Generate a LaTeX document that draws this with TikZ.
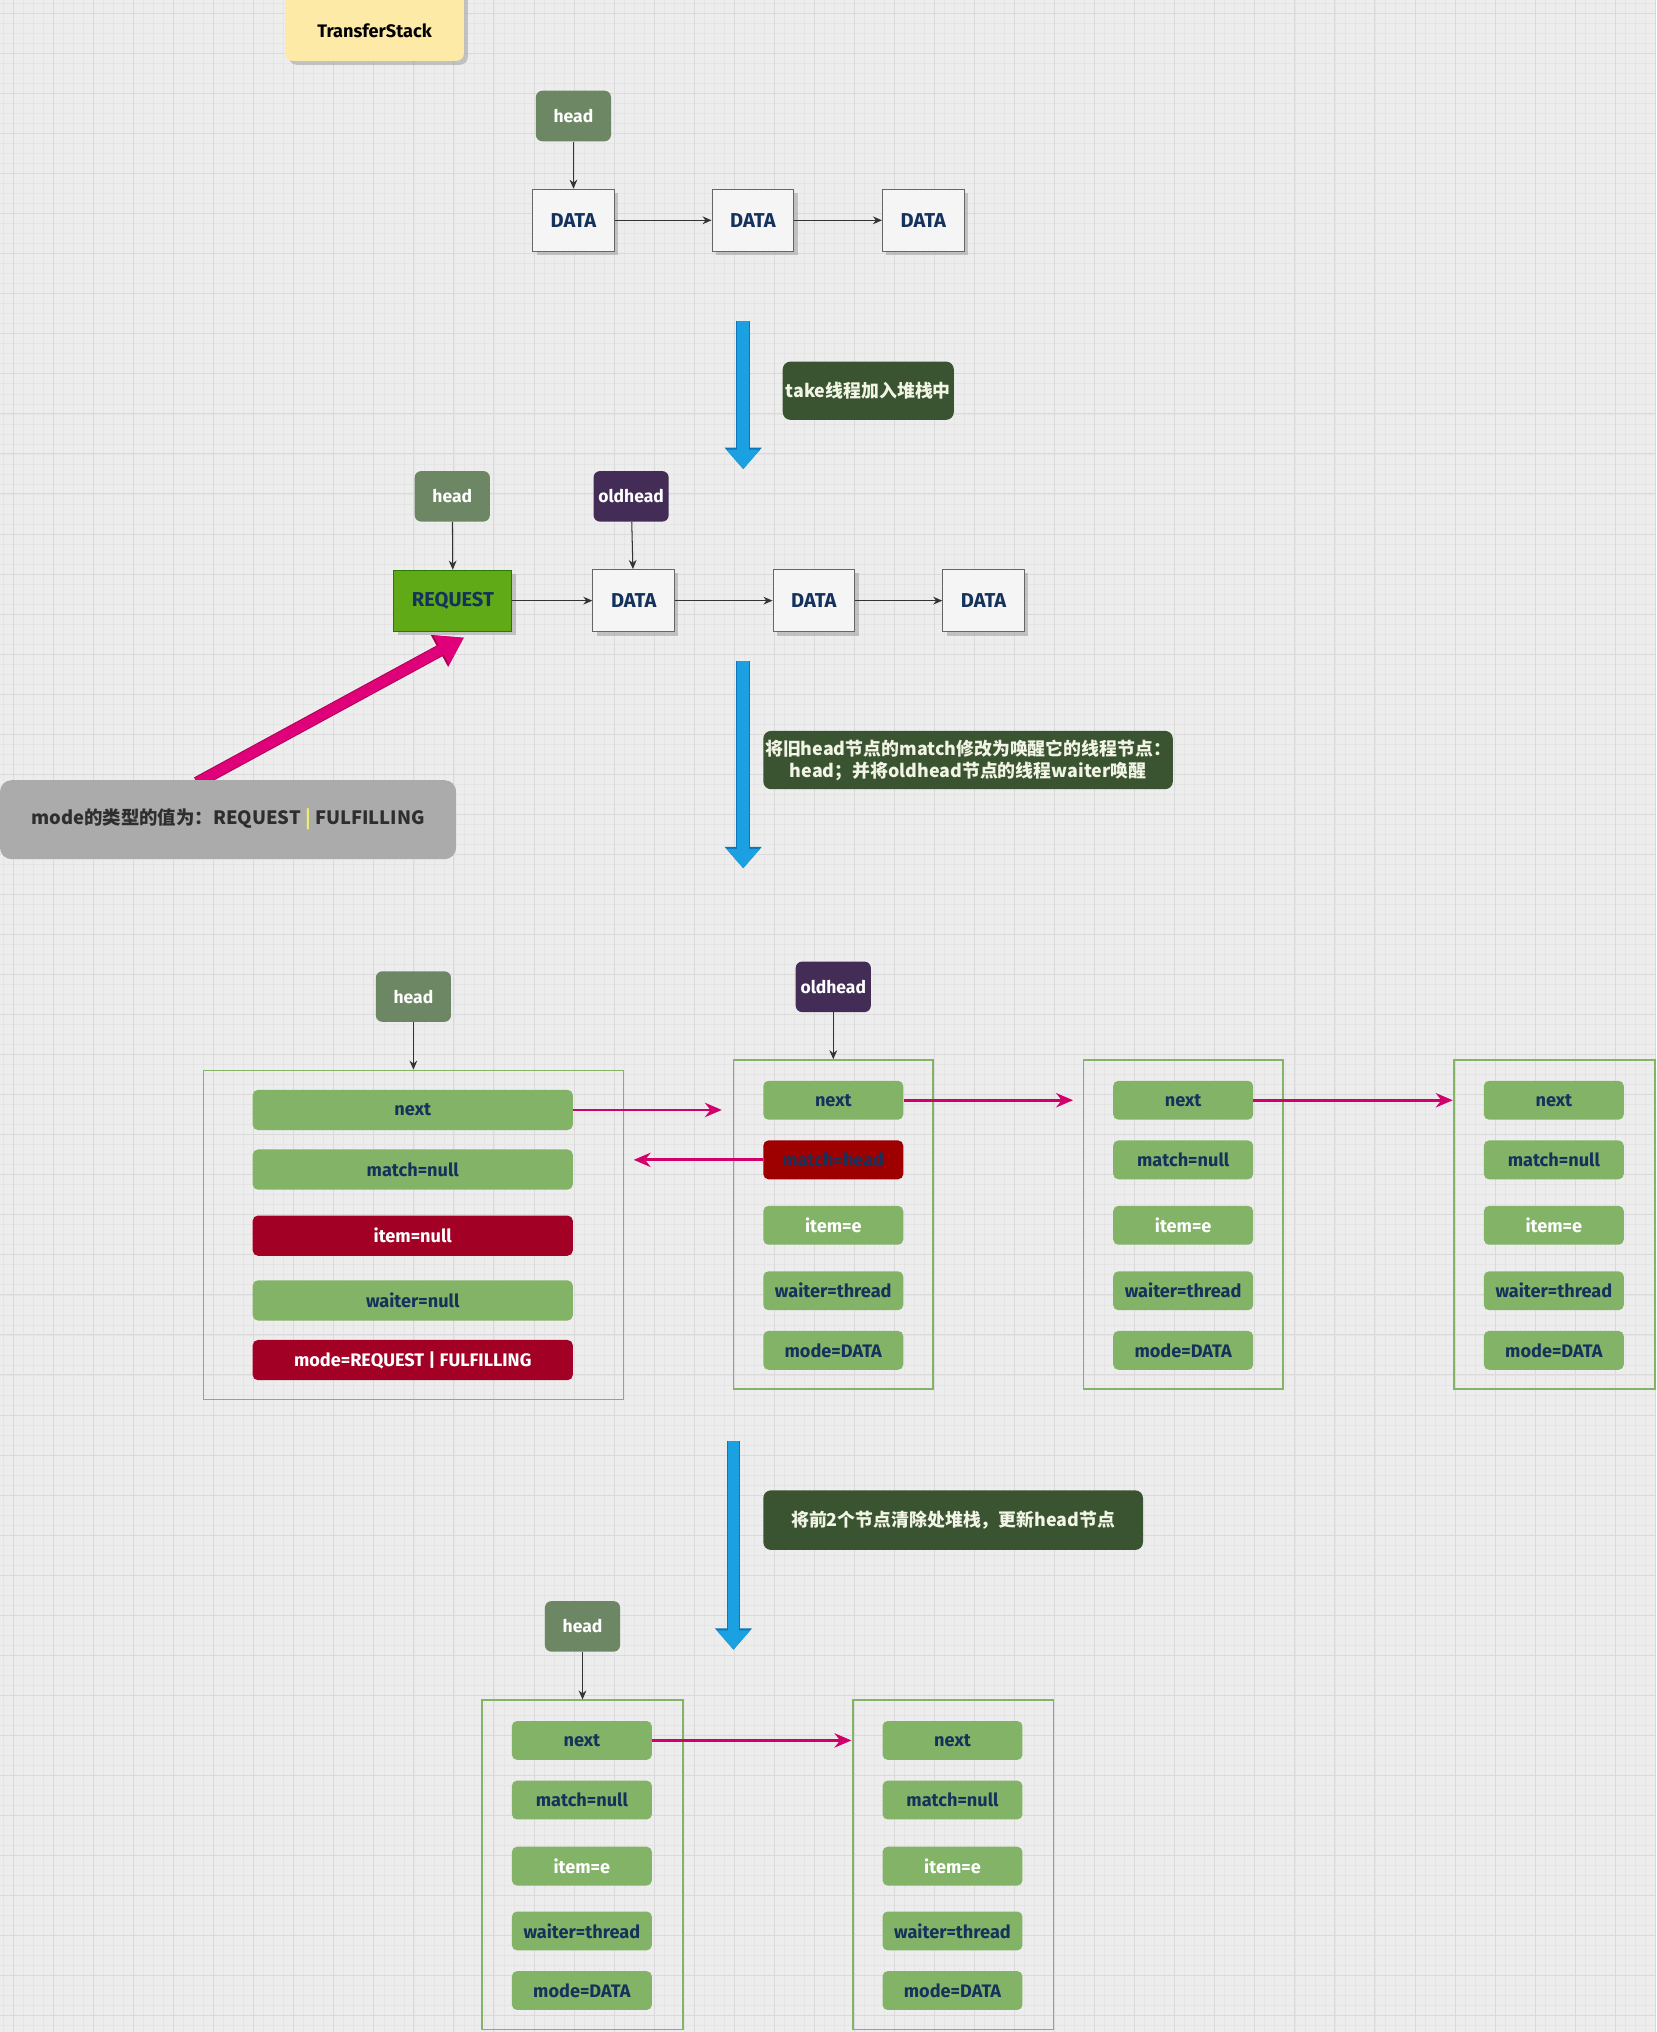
\documentclass[tikz,border=0pt]{standalone}
\usepackage{fontspec}
\setmainfont{Fira Sans}
\newfontfamily\cjk{Noto Sans CJK SC}
\usetikzlibrary{arrows.meta,shadows,calc}

\definecolor{bg}{HTML}{EDEDED}
\definecolor{gridminor}{HTML}{E5E5E5}
\definecolor{gridmajor}{HTML}{DADADA}
\definecolor{headfill}{HTML}{6D8764}
\definecolor{oldfill}{HTML}{432D57}
\definecolor{navy}{HTML}{14325C}
\definecolor{datafill}{HTML}{F5F5F5}
\definecolor{dataline}{HTML}{666666}
\definecolor{reqfill}{HTML}{60A917}
\definecolor{reqline}{HTML}{2D7600}
\definecolor{lblfill}{HTML}{3A5431}
\definecolor{lbltext}{HTML}{F2F5E6}
\definecolor{bluefill}{HTML}{1BA1E2}
\definecolor{blueline}{HTML}{0B76B8}
\definecolor{pinkfill}{HTML}{E0007A}
\definecolor{pinkline}{HTML}{A8004F}
\definecolor{pinkconn}{HTML}{D1006A}
\definecolor{grayfill}{HTML}{ABABAB}
\definecolor{graytext}{HTML}{2E2E2E}
\definecolor{barcol}{HTML}{F0F070}
\definecolor{cont}{HTML}{82B366}
\definecolor{rowgreen}{HTML}{82B366}
\definecolor{crimson}{HTML}{A20025}
\definecolor{redbox}{HTML}{9E0000}
\definecolor{yellowfill}{HTML}{FCEAA6}

\tikzset{
  ptr/.style={rounded corners=5pt, inner sep=0pt, minimum width=58pt, minimum height=39pt,
    font=\fontsize{13.5}{16}\selectfont\bfseries, text=white},
  headbox/.style={ptr, fill=headfill},
  oldbox/.style={ptr, fill=oldfill},
  databox/.style={draw=dataline, fill=datafill, line width=0.8pt, minimum width=63pt,
    minimum height=48pt, inner sep=0pt, font=\fontsize{15.5}{18}\selectfont\bfseries, text=navy,
    drop shadow={shadow xshift=3pt, shadow yshift=-3pt, fill=black!40, opacity=0.5}},
  reqbox/.style={databox, fill=reqfill, draw=reqline, minimum width=91pt, minimum height=47pt},
  tsbox/.style={rounded corners=6pt, fill=yellowfill, inner sep=0pt, minimum width=138pt,
    minimum height=56pt,
    drop shadow={shadow xshift=3pt, shadow yshift=-3pt, fill=black!40, opacity=0.5}},
  tstext/.style={inner sep=0pt, font=\fontsize{14}{16}\selectfont\bfseries, text=black},
  lbl/.style={rounded corners=6pt, fill=lblfill, text=lbltext, inner sep=0pt,
    font=\cjk\fontsize{13.8}{17}\selectfont\bfseries},
  graybox/.style={rounded corners=9pt, fill=grayfill, text=graytext, inner sep=0pt,
    font=\cjk\fontsize{14.2}{17}\selectfont\bfseries},
  row/.style={rounded corners=4pt, fill=rowgreen, inner sep=0pt, minimum height=30pt,
    minimum width=108pt, font=\fontsize{14}{16}\selectfont\bfseries, text=navy},
  rowwide/.style={row, minimum width=247pt, minimum height=31pt},
  redrow/.style={fill=crimson, text=white},
  whitetext/.style={text=white},
  container/.style={draw=cont, line width=1.2pt, inner sep=0pt},
  conn/.style={-{Stealth[length=7pt,width=6pt]}, draw=black!80, line width=0.8pt},
  pinkc/.style={-{Stealth[length=13pt,width=11pt]}, draw=pinkconn, line width=2.2pt},
  bigblue/.style={draw=bluefill, line width=9pt, -{Triangle[length=15pt,width=25pt]},
    preaction={draw=blueline, line width=10.6pt, -{Triangle[length=16.5pt,width=27.5pt]}}},
  bigpink/.style={draw=pinkfill, line width=8pt, -{Triangle[length=20pt,width=24pt]},
    preaction={draw=pinkline, line width=9.4pt, -{Triangle[length=21.5pt,width=26.5pt]}}},
}

\begin{document}
\begin{tikzpicture}[x=1pt,y=-1pt]
\useasboundingbox (0,0) rectangle (1278,1568);
\fill[bg] (0,0) rectangle (1278,1568);
\foreach \i in {0,...,166} \draw[gridminor, line width=0.4pt] ({2.575+\i*7.725},0) -- ({2.575+\i*7.725},1568);
\foreach \i in {0,...,203} \draw[gridminor, line width=0.4pt] (0,{2.575+\i*7.725}) -- (1278,{2.575+\i*7.725});
\foreach \i in {0,...,41} \draw[gridmajor, line width=0.6pt] ({10.3+\i*30.9},0) -- ({10.3+\i*30.9},1568);
\foreach \i in {0,...,50} \draw[gridmajor, line width=0.6pt] (0,{10.3+\i*30.9}) -- (1278,{10.3+\i*30.9});

% title
\node[tsbox] (ts) at (289,19) {};
\node[tstext] (tst) at (289,24) {TransferStack};

% row 1
\node[headbox] (h1) at (442.5,89.5) {head};
\node[databox] (d1) at (442.5,170) {DATA};
\node[databox] (d2) at (581,170) {DATA};
\node[databox] (d3) at (712.5,170) {DATA};
\draw[conn] (h1) -- (d1);
\draw[conn] (d1) -- (d2);
\draw[conn] (d2) -- (d3);

% step 1
\coordinate (b1s) at (573.5,248);
\coordinate (b1e) at (573.5,362);
\draw[bigblue] (b1s) -- (b1e);
\node[lbl, minimum width=132pt, minimum height=45pt] (l1) at (670,301.5) {take线程加入堆栈中};

% row 2
\node[headbox] (h2) at (349,383) {head};
\node[oldbox] (o2) at (487,383) {oldhead};
\node[reqbox] (r2) at (349.5,463.5) {REQUEST};
\node[databox] (e1) at (489,463.5) {DATA};
\node[databox] (e2) at (628,463.5) {DATA};
\node[databox] (e3) at (759,463.5) {DATA};
\draw[conn] (h2) -- (r2);
\draw[conn] (o2) -- (e1);
\draw[conn] (r2) -- (e1);
\draw[conn] (e1) -- (e2);
\draw[conn] (e2) -- (e3);

% mode note
\coordinate (pa) at (152,604);
\coordinate (pb) at (358,492);
\draw[bigpink] (pa) -- (pb);
\node[graybox, minimum width=352pt, minimum height=61pt] (g) at (176,632.5)
  {mode的类型的值为：REQUEST {\color{barcol}|} FULFILLING};

% step 2
\coordinate (b2s) at (573.5,510);
\coordinate (b2e) at (573.5,670);
\draw[bigblue] (b2s) -- (b2e);
\node[lbl, minimum width=316pt, minimum height=45pt, align=center] (l2) at (747,586.5)
  {将旧head节点的match修改为唤醒它的线程节点：\\head；并将oldhead节点的线程waiter唤醒};

% row 3
\node[headbox] (h3) at (319,769) {head};
\node[container, minimum width=324pt, minimum height=254pt] (c1) at (319,953) {};
\node[rowwide] (c1a) at (318.5,856.5) {next};
\node[rowwide] (c1b) at (318.5,902.5) {match=null};
\node[rowwide, redrow] (c1c) at (318.5,953.5) {item=null};
\node[rowwide] (c1d) at (318.5,1003.5) {waiter=null};
\node[rowwide, redrow] (c1e) at (318.5,1049.5) {mode=REQUEST | FULFILLING};
\draw[conn] (h3) -- (c1);

\node[oldbox] (o3) at (643,761.5) {oldhead};
\node[container, minimum width=154pt, minimum height=254pt] (c2) at (643,945) {};
\node[row] (c2a) at (643,849) {next};
\node[row, fill=redbox] (c2b) at (643,895) {match=head};
\node[row, whitetext] (c2c) at (643,945.5) {item=e};
\node[row] (c2d) at (643,996) {waiter=thread};
\node[row] (c2e) at (643,1042) {mode=DATA};
\draw[conn] (o3) -- (c2);

\node[container, minimum width=154pt, minimum height=254pt] (c3) at (913,945) {};
\node[row] (c3a) at (913,849) {next};
\node[row] (c3b) at (913,895) {match=null};
\node[row, whitetext] (c3c) at (913,945.5) {item=e};
\node[row] (c3d) at (913,996) {waiter=thread};
\node[row] (c3e) at (913,1042) {mode=DATA};

\node[container, minimum width=155pt, minimum height=254pt] (c4) at (1199.5,945) {};
\node[row] (c4a) at (1199,849) {next};
\node[row] (c4b) at (1199,895) {match=null};
\node[row, whitetext] (c4c) at (1199,945.5) {item=e};
\node[row] (c4d) at (1199,996) {waiter=thread};
\node[row] (c4e) at (1199,1042) {mode=DATA};

\coordinate (p1) at (557,856.5);
\coordinate (p2) at (489,895);
\coordinate (p3) at (828,849);
\coordinate (p4) at (1121,849);
\draw[pinkc] (c1a.east) -- (p1);
\draw[pinkc] (c2b.west) -- (p2);
\draw[pinkc] (c2a.east) -- (p3);
\draw[pinkc] (c3a.east) -- (p4);

% step 3
\coordinate (b3s) at (566,1112);
\coordinate (b3e) at (566,1273);
\draw[bigblue] (b3s) -- (b3e);
\node[lbl, minimum width=293pt, minimum height=46pt] (l3) at (735.5,1173) {将前2个节点清除处堆栈，更新head节点};

% row 4
\node[headbox] (h4) at (449.5,1255) {head};
\node[container, minimum width=155pt, minimum height=254pt] (c5) at (449.5,1439) {};
\node[row] (c5a) at (449,1343) {next};
\node[row] (c5b) at (449,1389) {match=null};
\node[row, whitetext] (c5c) at (449,1440) {item=e};
\node[row] (c5d) at (449,1490) {waiter=thread};
\node[row] (c5e) at (449,1536) {mode=DATA};
\draw[conn] (h4) -- (c5);

\node[container, minimum width=155pt, minimum height=254pt] (c6) at (735.5,1439) {};
\node[row] (c6a) at (735,1343) {next};
\node[row] (c6b) at (735,1389) {match=null};
\node[row, whitetext] (c6c) at (735,1440) {item=e};
\node[row] (c6d) at (735,1490) {waiter=thread};
\node[row] (c6e) at (735,1536) {mode=DATA};

\coordinate (p5) at (657,1343);
\draw[pinkc] (c5a.east) -- (p5);
\end{tikzpicture}
\end{document}
